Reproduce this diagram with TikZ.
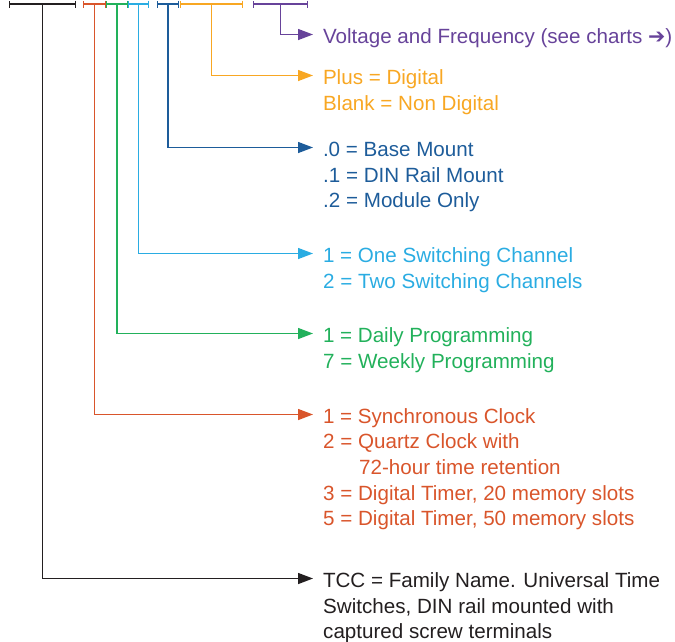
\documentclass[tikz,border=0pt]{standalone}
\usepackage{fontspec}
\setmainfont{Liberation Sans}
\newfontfamily\symfont{DejaVu Sans}
\usetikzlibrary{arrows.meta}

\definecolor{tccgray}{HTML}{231F20}
\definecolor{clockred}{HTML}{D9552B}
\definecolor{proggreen}{HTML}{22B15B}
\definecolor{chancyan}{HTML}{2AACE2}
\definecolor{mountblue}{HTML}{1D5C9A}
\definecolor{digiorange}{HTML}{F8A723}
\definecolor{voltpurple}{HTML}{67439A}

\tikzset{
  bar/.style={line width=1.7pt, {Bar[width=7pt,line width=1.3pt]}-{Bar[width=7pt,line width=1.3pt]}},
  lead/.style={line width=1.4pt, -{Triangle[length=15pt,width=11pt]}},
  codeline/.style={anchor=base west, inner sep=0pt, font=\fontsize{20.6}{24}\selectfont},
  code/.style={codeline, text height=17pt, text depth=0pt, outer xsep=10pt}
}

\begin{document}
\begin{tikzpicture}[x=1pt, y=-1pt]
	\useasboundingbox (0,0) rectangle (675,641);

	% draw the code segments
	\foreach \a/\b/\c/\n in {9/76/tccgray/bTCC, 83/106/clockred/bClock,
		106/128/proggreen/bProg, 128/149/chancyan/bChan, 157/179/mountblue/bMount,
		180/243/digiorange/bDigital, 253/308/voltpurple/bVolt}
	\draw [bar, \c] (\a,4) -- coordinate[midway] (\n) (\b,4);

	% draw the labels
	\node [code, voltpurple] (lVolt) at (313,43) {Voltage and Frequency (see charts {\symfont\bfseries ➔})};

	\node [code, digiorange] (lDigital) at (313,84) {Plus = Digital};
	\node [codeline, digiorange] at (323,110) {Blank = Non Digital};

	\node [code, mountblue] (lMount) at (313,156) {.0 = Base Mount};
	\node [codeline, mountblue] at (323,182) {.1 = DIN Rail Mount};
	\node [codeline, mountblue] at (323,207) {.2 = Module Only};

	\node [code, chancyan] (lChan) at (313,262) {1 = One Switching Channel};
	\node [codeline, chancyan] at (323,288) {2 = Two Switching Channels};

	\node [code, proggreen] (lProg) at (313,342) {1 = Daily Programming};
	\node [codeline, proggreen] at (323,368) {7 = Weekly Programming};

	\node [code, clockred] (lClock) at (313,423) {1 = Synchronous Clock};
	\node [codeline, clockred] at (323,448) {2 = Quartz Clock with};
	\node [codeline, clockred] at (359,474) {72-hour time retention};
	\node [codeline, clockred] at (323,500) {3 = Digital Timer, 20 memory slots};
	\node [codeline, clockred] at (323,525) {5 = Digital Timer, 50 memory slots};

	\node [code, tccgray] (lTCC) at (313,587) {TCC = Family Name. Universal Time};
	\node [codeline, tccgray] at (323,613) {Switches, DIN rail mounted with};
	\node [codeline, tccgray] at (323,638) {captured screw terminals};

	% draw the leads
	\draw [lead, voltpurple] (bVolt) |- (lVolt.west);
	\draw [lead, digiorange] (bDigital) |- (lDigital.west);
	\draw [lead, mountblue] (bMount) |- (lMount.west);
	\draw [lead, chancyan] (bChan) |- (lChan.west);
	\draw [lead, proggreen] (bProg) |- (lProg.west);
	\draw [lead, clockred] (bClock) |- (lClock.west);
	\draw [lead, tccgray] (bTCC) |- (lTCC.west);
\end{tikzpicture}
\end{document}
